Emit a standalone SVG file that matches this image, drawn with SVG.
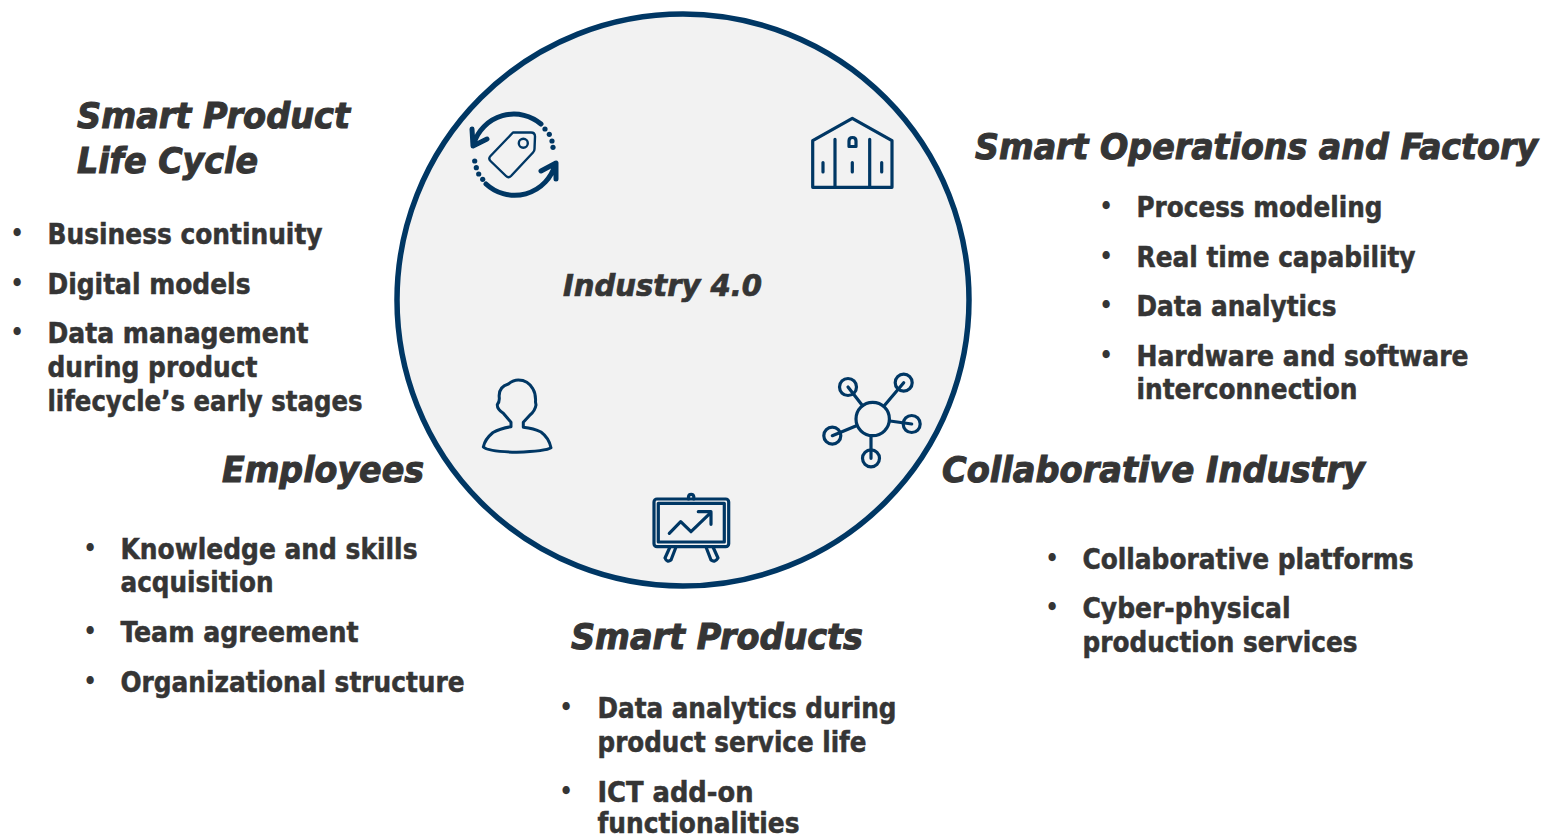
<svg xmlns="http://www.w3.org/2000/svg" width="1553" height="837" viewBox="0 0 1553 837">
<style>
text{fill:#353535;stroke:#353535;font-weight:700;font-family:"DejaVu Sans Condensed","DejaVu Sans",sans-serif}
.t{font-size:36px;font-style:italic;stroke-width:1}
.c{font-size:31px;font-style:italic;stroke-width:.7}
.b{font-size:28px;stroke-width:.5}
.d{font-size:23px;text-anchor:middle;stroke-width:0}
.i{fill:none;stroke:#003764;stroke-width:3.200;stroke-linecap:round;stroke-linejoin:round}
.h{fill:none;stroke:#003764;stroke-width:5;stroke-linecap:round;stroke-linejoin:round}
.p{fill:#003764;stroke:none}
</style>
<g id="hub">
<circle cx="683" cy="300" r="286" fill="#f2f2f2" stroke="#003764" stroke-width="5.500"/>
<text class="c" x="563" y="296" textLength="199" lengthAdjust="spacingAndGlyphs">Industry 4.0</text>
</g>
<g id="icon-lifecycle">
<path class="h" d="M541 124A42 42 0 0 0 474 143M472 129L473 146L487 139"/>
<path class="h" d="M486 184A42 42 0 0 0 555 165M541 171L556 163L556 179"/>
<circle class="p" cx="545" cy="129" r="2.600"/><circle class="p" cx="549.300" cy="134.300" r="2.600"/><circle class="p" cx="552" cy="141" r="2.600"/><circle class="p" cx="553" cy="147.300" r="2.600"/>
<circle class="p" cx="474.700" cy="161" r="2.600"/><circle class="p" cx="476.300" cy="167.700" r="2.600"/><circle class="p" cx="478.700" cy="174" r="2.600"/><circle class="p" cx="482.700" cy="179.300" r="2.600"/>
<path fill="none" stroke="#003764" stroke-width="2.400" stroke-linejoin="round" d="M513 132.500L531 132.500Q535 132.500 535 136.500L534.500 149Q534.500 151 533 152.500L511 176Q508.500 178.500 506 176L490.500 161Q488 158.500 490.500 156Z"/>
<circle cx="523.300" cy="143.300" r="4.500" fill="none" stroke="#003764" stroke-width="2.400"/>
</g>
<g id="icon-factory">
<path class="i" d="M812.700 187.300V140.700L852.300 118.300L892 140.700V187.300Z"/>
<path class="i" d="M835 139.300V187M869.700 139.300V187M823 162.500V172M852.300 162.500V172M881.700 162.500V172"/>
<path class="i" d="M849 146.500V141Q849 137.500 852.500 137.500Q856 137.500 856 141V146.500Z"/>
</g>
<g id="icon-network">
<circle class="i" cx="872.700" cy="419" r="16.700"/>
<circle class="i" cx="848" cy="387" r="8.500"/><circle class="i" cx="903.700" cy="382.700" r="8.500"/><circle class="i" cx="911.700" cy="424" r="8.500"/><circle class="i" cx="832.300" cy="435.700" r="8.500"/><circle class="i" cx="871" cy="458.300" r="8.500"/>
<path class="i" d="M848 387L862 405M903.700 382.700L884 406M911.700 424L890 421M832.300 435.700L857 425.500M871 458.300V436"/>
</g>
<g id="icon-board">
<rect class="i" x="654" y="499" width="74.700" height="47.700" rx="3"/>
<rect class="i" x="658.300" y="503.300" width="66" height="38.700"/>
<path class="i" d="M688.500 499V496.500A2.700 2.700 0 0 1 693.800 496.500V499"/>
<path class="i" d="M669.300 533.300L680.700 521.700L691 531.700L711 512.300M698.300 511.700H711V524.300"/>
<path class="i" d="M670 547L665 558Q667 563 671 560L676 547M706 547L711 560Q715 563 718 558L713 547"/>
</g>
<g id="icon-person">
<path fill="none" stroke="#003764" stroke-width="3" stroke-linejoin="round" d="M511 426.700V422.300L503.300 413.300Q497 409 497.300 404.500Q499.500 402 499.300 398Q498 387 508.300 384Q513 380 518.300 380Q528 380 533 389Q536 394 535.500 402L536 405Q535 411 530 415L523.300 422.300V427.300Q534 428.500 541 432Q549 438 551 447.700Q546 451 516.700 452.300Q488 451.500 483.300 447Q485 439 493 432.500Q500 428.500 511 426.700Z"/>
</g>
<g id="smart-product-life-cycle">
<text class="t" x="77" y="128" textLength="273" lengthAdjust="spacingAndGlyphs">Smart Product</text>
<text class="t" x="77" y="173" textLength="181" lengthAdjust="spacingAndGlyphs">Life Cycle</text>
<text class="d" x="17" y="241">•</text><text class="b" x="47.500" y="244" textLength="275" lengthAdjust="spacingAndGlyphs">Business continuity</text>
<text class="d" x="17" y="291">•</text><text class="b" x="47.500" y="294" textLength="203" lengthAdjust="spacingAndGlyphs">Digital models</text>
<text class="d" x="17" y="340">•</text><text class="b" x="47.500" y="343" textLength="261" lengthAdjust="spacingAndGlyphs">Data management</text>
<text class="b" x="47.500" y="377" textLength="210" lengthAdjust="spacingAndGlyphs">during product</text>
<text class="b" x="47.500" y="411" textLength="315" lengthAdjust="spacingAndGlyphs">lifecycle’s early stages</text>
</g>
<g id="smart-operations-and-factory">
<text class="t" x="975" y="159" textLength="563" lengthAdjust="spacingAndGlyphs">Smart Operations and Factory</text>
<text class="d" x="1106" y="214">•</text><text class="b" x="1136.500" y="217" textLength="246" lengthAdjust="spacingAndGlyphs">Process modeling</text>
<text class="d" x="1106" y="264">•</text><text class="b" x="1136.500" y="267" textLength="279" lengthAdjust="spacingAndGlyphs">Real time capability</text>
<text class="d" x="1106" y="313">•</text><text class="b" x="1136.500" y="316" textLength="200" lengthAdjust="spacingAndGlyphs">Data analytics</text>
<text class="d" x="1106" y="363">•</text><text class="b" x="1136.500" y="366" textLength="332" lengthAdjust="spacingAndGlyphs">Hardware and software</text>
<text class="b" x="1136.500" y="399" textLength="221" lengthAdjust="spacingAndGlyphs">interconnection</text>
</g>
<g id="employees">
<text class="t" x="222" y="482" textLength="202" lengthAdjust="spacingAndGlyphs">Employees</text>
<text class="d" x="90" y="556">•</text><text class="b" x="120.500" y="559" textLength="297" lengthAdjust="spacingAndGlyphs">Knowledge and skills</text>
<text class="b" x="120.500" y="592" textLength="153" lengthAdjust="spacingAndGlyphs">acquisition</text>
<text class="d" x="90" y="639">•</text><text class="b" x="120.500" y="642" textLength="238" lengthAdjust="spacingAndGlyphs">Team agreement</text>
<text class="d" x="90" y="689">•</text><text class="b" x="120.500" y="692" textLength="344" lengthAdjust="spacingAndGlyphs">Organizational structure</text>
</g>
<g id="collaborative-industry">
<text class="t" x="942" y="482" textLength="423" lengthAdjust="spacingAndGlyphs">Collaborative Industry</text>
<text class="d" x="1052" y="566">•</text><text class="b" x="1082.500" y="569" textLength="331" lengthAdjust="spacingAndGlyphs">Collaborative platforms</text>
<text class="d" x="1052" y="615">•</text><text class="b" x="1082.500" y="618" textLength="208" lengthAdjust="spacingAndGlyphs">Cyber-physical</text>
<text class="b" x="1082.500" y="652" textLength="275" lengthAdjust="spacingAndGlyphs">production services</text>
</g>
<g id="smart-products">
<text class="t" x="571" y="649" textLength="292" lengthAdjust="spacingAndGlyphs">Smart Products</text>
<text class="d" x="566" y="715">•</text><text class="b" x="597.500" y="718" textLength="299" lengthAdjust="spacingAndGlyphs">Data analytics during</text>
<text class="b" x="597.500" y="752" textLength="269" lengthAdjust="spacingAndGlyphs">product service life</text>
<text class="d" x="566" y="799">•</text><text class="b" x="597.500" y="802" textLength="156" lengthAdjust="spacingAndGlyphs">ICT add-on</text>
<text class="b" x="597.500" y="833" textLength="202" lengthAdjust="spacingAndGlyphs">functionalities</text>
</g>
<g id="connectors"></g>
</svg>
